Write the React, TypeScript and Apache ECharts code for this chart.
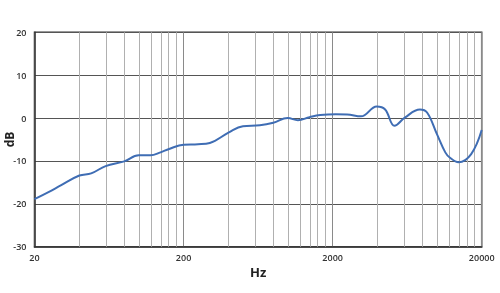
import React, { useEffect, useRef } from "react";
import * as echarts from "echarts";

// Frequency response (Hz, dB)
const freqs = [20, 25, 30, 40, 48, 60, 80, 100, 120, 140, 160, 200, 250, 300, 400, 500, 650, 800, 1000, 1170, 1400, 1650, 2100, 2500, 3100, 3950, 4500, 5200, 6100, 7700, 8600, 10000, 11400, 12200, 14000, 17000, 20000];
const dbValues = [-18.9, -17.2, -15.7, -13.4, -12.9, -11.2, -10.1, -8.7, -8.7, -8.0, -7.2, -6.2, -6.1, -5.8, -3.4, -1.9, -1.7, -1.1, 0.0, -0.5, 0.2, 0.7, 0.9, 0.85, 0.4, 2.7, 2.0, -1.8, 0.1, 2.0, 1.3, -3.7, -8.0, -9.2, -10.3, -8.4, -2.8];
const minorFreqs = [40, 60, 80, 100, 120, 140, 160, 180, 400, 600, 800, 1000, 1200, 1400, 1600, 1800, 4000, 6000, 8000, 10000, 12000, 14000, 16000, 18000];
const xTickLabels = ["20", "200", "2000", "20000"];
const F0 = 20;

const toU = (f: number) => Math.log10(f / F0);

export default function App() {
  const ref = useRef<HTMLDivElement>(null);
  useEffect(() => {
    if (!ref.current) return;
    const chart = echarts.init(ref.current, undefined, { renderer: "svg" });
    const labelStyle = { fontFamily: "Open Sans", fontWeight: 600 as any, fontSize: 9, color: "#333" };
    chart.setOption({
      animation: false,
      grid: {
        left: 34.5, top: 32.3, right: 18.3, bottom: 46.3,
        outerBoundsMode: "none", containLabel: false,
        show: true, borderColor: "#333", borderWidth: 1.5,
      },
      xAxis: {
        type: "value",
        min: 0,
        max: 3,
        interval: 1,
        name: "Hz",
        nameLocation: "middle",
        nameGap: 19,
        nameMoveOverlap: false,
        nameTextStyle: { fontFamily: "Open Sans", fontWeight: "bold", fontSize: 13, color: "#222" },
        axisLine: { show: true, onZero: false, lineStyle: { color: "#333", width: 1.5 } },
        axisTick: { show: false },
        axisLabel: { ...labelStyle, margin: 6, formatter: (v: number) => xTickLabels[Math.round(v)] ?? "" },
        splitLine: { show: true, lineStyle: { color: "#8a8a8a", width: 1 } },
      },
      yAxis: {
        type: "value",
        min: -30,
        max: 20,
        interval: 10,
        name: "dB",
        nameLocation: "middle",
        nameGap: 19,
        nameMoveOverlap: false,
        nameTextStyle: { fontFamily: "Open Sans", fontWeight: "bold", fontSize: 12, color: "#222" },
        axisLine: { show: true, onZero: false, lineStyle: { color: "#333", width: 1.5 } },
        axisTick: { show: false },
        axisLabel: { ...labelStyle, margin: 8 },
        splitLine: { show: true, lineStyle: { color: "#555", width: 1 } },
      },
      series: [
        {
          type: "line",
          data: freqs.map((f, i) => [toU(f), dbValues[i]]),
          smooth: 0.4,
          showSymbol: false,
          lineStyle: { color: "#3f6db4", width: 2 },
          z: 5,
          markLine: {
            silent: true,
            symbol: "none",
            label: { show: false },
            lineStyle: { color: "#b0b0b0", width: 1, type: "solid" },
            data: minorFreqs.map((f) => ({ xAxis: toU(f) })),
            z: 1,
          },
        },
      ],
    });
    return () => chart.dispose();
  }, []);
  return <div ref={ref} style={{ position: "fixed", left: 0, top: 0, width: 500, height: 293 }} />;
}
